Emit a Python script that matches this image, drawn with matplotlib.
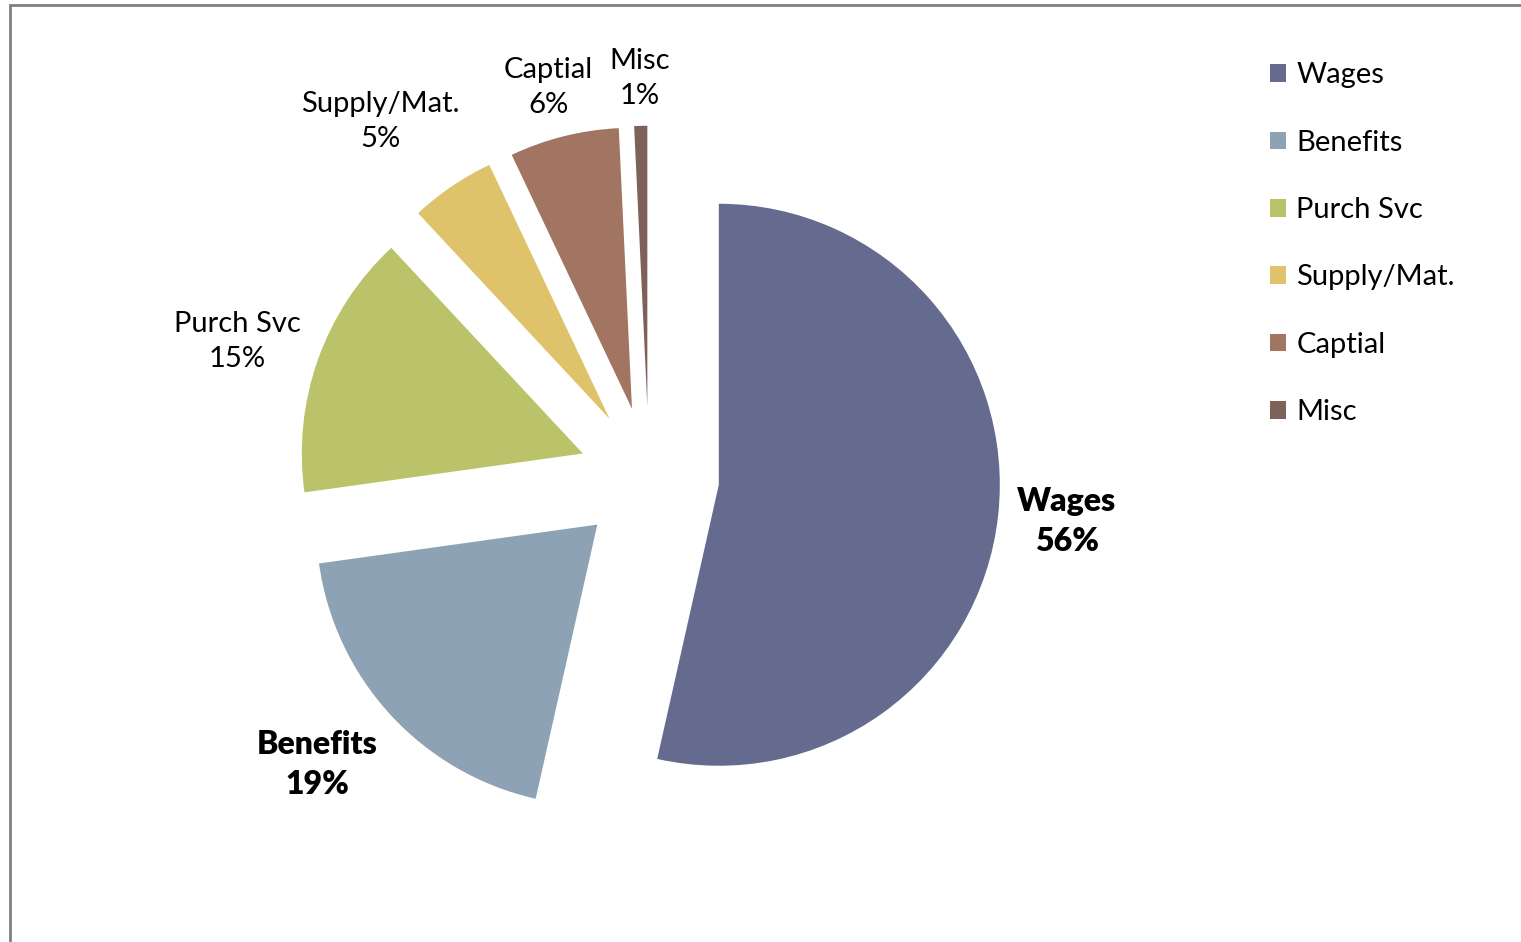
import numpy as np
import matplotlib
matplotlib.use("Agg")
from matplotlib import pyplot as plt
from matplotlib.patches import Rectangle

plt.rcParams["font.family"] = ["Lato", "DejaVu Sans"]

# Data
categories = ["Wages", "Benefits", "Purch Svc", "Supply/Mat.", "Captial", "Misc"]
values = [53.6, 19.3, 15.3, 4.9, 6.3, 0.75]
pct_labels = ["56%", "19%", "15%", "5%", "6%", "1%"]
colors = ["#646b8e", "#8da3b5", "#bac36a", "#dec36b", "#a27562", "#7e6259"]
bold = [True, True, False, False, False, False]
label_dist = [1.07, 1.14, 1.08, 1.17, 1.07, 1.06]

W, H = 1521, 942
R = 281
fig = plt.figure(figsize=(W / 100, H / 100), dpi=100)
ax = fig.add_axes([0, 0, 1, 1])

wedges, _ = ax.pie(
    values,
    colors=colors,
    startangle=90,
    counterclock=False,
    explode=[0.25 * R] * len(values),
    radius=R,
    center=(649, H - 477),
    frame=True,
)
ax.set_xlim(0, W)
ax.set_ylim(0, H)
ax.axis("off")

# Data labels at "outside end": box pushed out from the slice edge
renderer = fig.canvas.get_renderer()
for w, name, pct, b, d in zip(wedges, categories, pct_labels, bold, label_dist):
    mid = np.deg2rad((w.theta1 + w.theta2) / 2)
    cx, cy = w.center
    px = cx + d * w.r * np.cos(mid)
    py = cy + d * w.r * np.sin(mid)
    t = ax.text(
        px, py, f"{name}\n{pct}",
        ha="center", va="center",
        fontsize=23 if b else 21,
        fontweight="heavy" if b else "normal", linespacing=1.45,
    )
    bb = t.get_window_extent(renderer)
    t.set_position((px + bb.width / 2 * np.cos(mid),
                    py + bb.height / 2 * np.sin(mid)))

leg = fig.legend(
    wedges, categories,
    loc="upper left", bbox_to_anchor=(1244 / W, 1 - 36 / H),
    frameon=False, fontsize=21,
    handlelength=0.55, handleheight=0.55, handletextpad=0.35,
    labelspacing=1.42,
)

# Chart area border (left and top visible)
fig.patches.append(Rectangle((10 / W, -0.1), 1.2, 1 - 5 / H + 0.1,
                             transform=fig.transFigure, fill=False,
                             edgecolor="#808080", linewidth=2))

fig.savefig("out.png", dpi=100)
